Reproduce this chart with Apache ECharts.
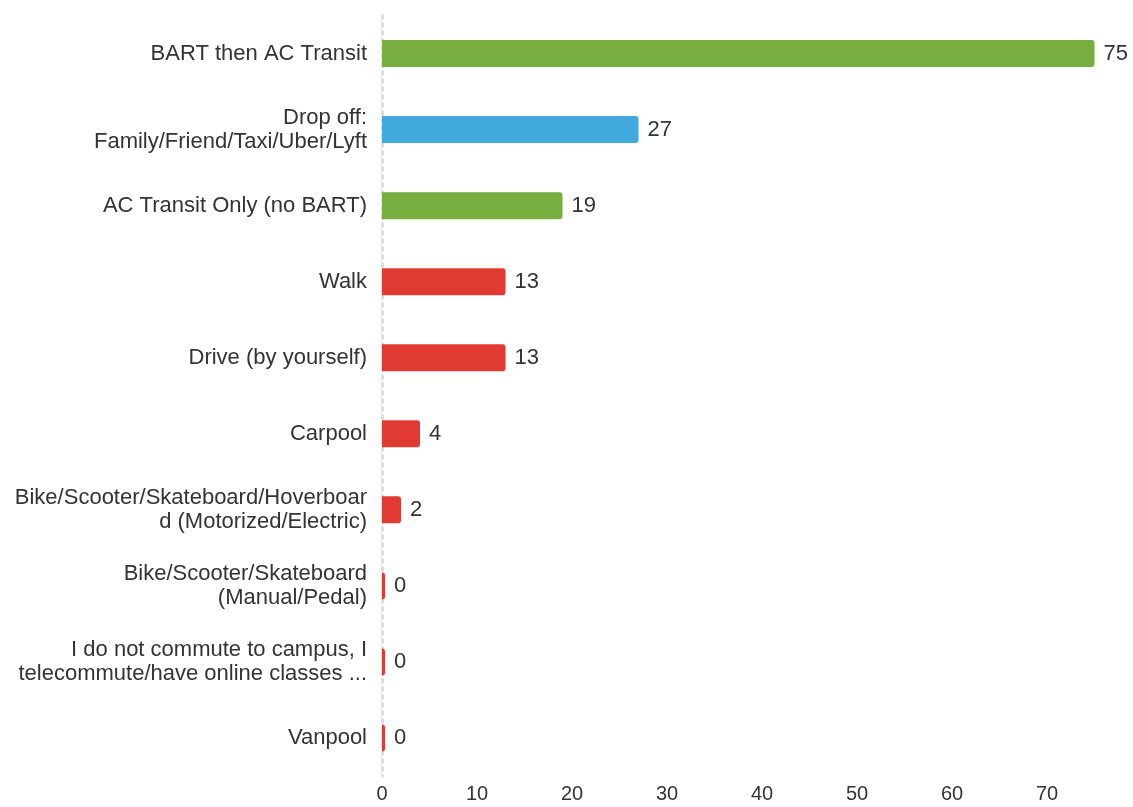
<!DOCTYPE html>
<html>
<head>
<meta charset="utf-8">
<style>
  html, body {margin: 0; padding: 0; background: #fff;}
  #chart {width: 1133px; height: 807px;}
</style>
<script src="https://cdn.jsdelivr.net/npm/echarts@6/dist/echarts.min.js"></script>
</head>
<body>
<div id="chart"></div>
<script>
const categories = [
  'BART then AC Transit',
  'Drop off:\nFamily/Friend/Taxi/Uber/Lyft',
  'AC Transit Only (no BART)',
  'Walk',
  'Drive (by yourself)',
  'Carpool',
  'Bike/Scooter/Skateboard/Hoverboar\nd (Motorized/Electric)',
  'Bike/Scooter/Skateboard\n(Manual/Pedal)',
  'I do not commute to campus, I\ntelecommute/have online classes ...',
  'Vanpool'
];
const values = [75, 27, 19, 13, 13, 4, 2, 0, 0, 0];
const barColors = ['#78ad3f', '#41a9dc', '#78ad3f', '#e03a33', '#e03a33',
  '#e03a33', '#e03a33', '#e03a33', '#e03a33', '#e03a33'];

const font = 'Liberation Sans, Arial, sans-serif';
const myChart = echarts.init(document.getElementById('chart'));
myChart.setOption({
  animation: false,
  grid: {left: 382, right: 38.5, top: 15.5, bottom: 31, containLabel: false},
  xAxis: {
    type: 'value',
    min: 0,
    max: 75,
    interval: 10,
    splitLine: {show: false},
    axisLine: {show: false},
    axisTick: {show: false},
    axisLabel: {
      showMaxLabel: false,
      color: '#333',
      fontSize: 20,
      fontFamily: font,
      margin: 8
    }
  },
  yAxis: {
    type: 'category',
    inverse: true,
    data: categories,
    axisTick: {show: false},
    axisLine: {
      show: true,
      lineStyle: {color: '#dcdcdc', type: [3, 5], width: 3}
    },
    axisLabel: {
      color: '#333',
      fontSize: 22,
      lineHeight: 24,
      align: 'right',
      margin: 15,
      fontFamily: font
    }
  },
  series: [{
    type: 'bar',
    data: values.map((v, i) => ({value: v, itemStyle: {color: barColors[i]}})),
    barWidth: 27,
    barMinHeight: 3,
    itemStyle: {borderRadius: [0, 3, 3, 0]},
    label: {
      show: true,
      position: 'right',
      distance: 9,
      color: '#333',
      fontSize: 22,
      fontFamily: font
    }
  }]
});
</script>
</body>
</html>
